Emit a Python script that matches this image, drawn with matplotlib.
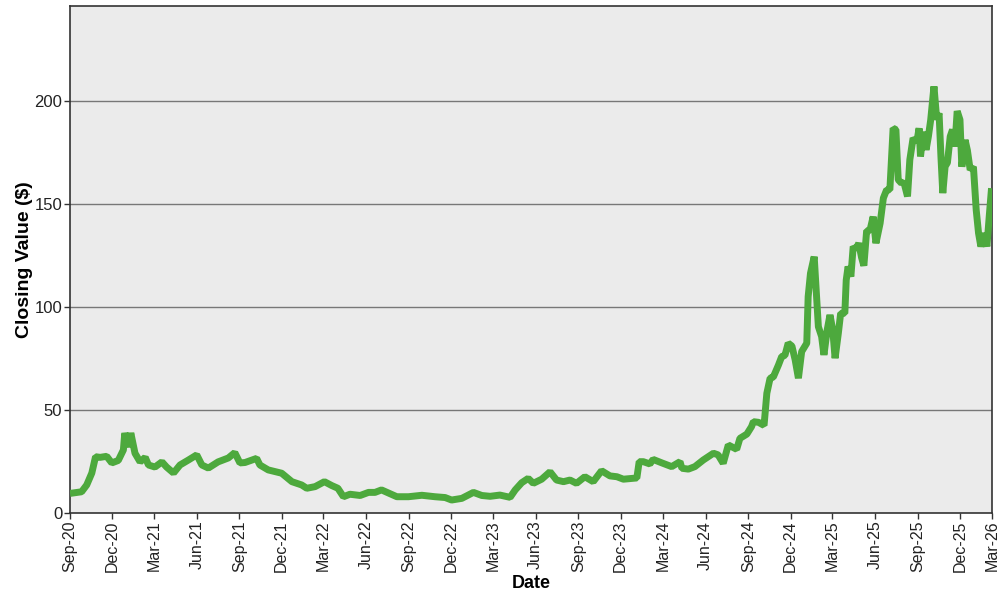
import matplotlib
matplotlib.use("Agg")
import matplotlib.pyplot as plt
import numpy as np
import pandas as pd

plt.rcParams['font.family'] = ['Liberation Sans', 'DejaVu Sans']

start_date = "2020-09-01"
# days since start_date
day_offset = [
    0, 25, 36, 47, 55, 65, 79, 90, 104, 115, 118, 126, 131, 140, 151, 162, 169,
    183, 198, 208, 223, 237, 255, 273, 284, 298, 319, 341, 355, 366,
    377, 402, 409, 427, 456, 478, 499, 510, 528, 548, 564, 577, 589, 603, 625,
    643, 657, 671, 686, 704, 729, 758, 786, 808, 822, 844, 869, 887,
    905, 926, 948, 959, 973, 987, 998, 1016, 1034, 1048, 1063, 1077, 1091, 1109,
    1127, 1145, 1163, 1178, 1192, 1221, 1226, 1235, 1249, 1256, 1275, 1296, 1314,
    1318, 1332, 1346, 1364, 1386, 1396, 1407, 1418, 1436, 1443, 1458, 1468, 1472,
    1483, 1495,
    1501, 1508, 1515, 1526, 1533, 1540, 1547, 1555, 1562, 1569, 1576, 1587, 1590,
    1595, 1603, 1608, 1612, 1619, 1624, 1631, 1637, 1643, 1648, 1655, 1660, 1669,
    1672, 1676, 1682, 1687, 1693, 1699,
    1705, 1710, 1716, 1723, 1730, 1736, 1745, 1752, 1759, 1766, 1773, 1779, 1784,
    1791, 1796, 1804, 1809, 1816, 1824, 1829, 1832, 1838, 1844, 1849, 1854, 1861,
    1867, 1872, 1876, 1880, 1885, 1890, 1896, 1901, 1906, 1911, 1917, 1921, 1928,
    1933, 1939, 1946, 1952, 1957, 1962, 1969, 1975, 1980, 1985,
]
closing_value = [
    9.5, 10.3, 13.6, 19.4, 27.3, 27.0, 27.5, 24.3, 25.5, 30.6, 38.8, 32.0, 38.8,
    29.0, 24.8, 27.0, 23.3, 22.3, 24.8, 22.3, 19.4, 23.3, 25.7, 28.2, 23.3, 21.8,
    24.8, 26.7, 29.3, 24.3,
    24.5, 26.5, 23.3, 20.9, 19.3, 15.2, 13.6, 12.0, 12.8, 15.2, 13.3, 12.0, 7.9,
    9.1, 8.5, 10.0, 10.0, 11.2, 9.7, 7.9, 7.9, 8.6, 7.9, 7.5, 6.3, 7.1, 10.0, 8.5,
    8.1, 8.7, 7.6, 11.2, 14.7, 16.8, 14.4, 16.4, 20.0, 16.0, 15.2, 16.0, 14.4,
    17.6, 15.2, 20.5, 18.0, 17.6, 16.4, 17.0, 24.9, 24.9, 23.8, 26.0, 24.3, 22.5,
    24.9, 21.7, 21.3, 22.5, 25.7, 29.0, 28.2, 24.1, 33.0, 30.9, 36.2, 38.3, 41.9,
    44.3, 44.0, 42.5,
    58.1, 65.4, 66.0, 71.8, 75.9, 76.5, 82.4, 81.0, 74.3, 65.4, 78.3, 82.4, 105.0,
    116.3, 124.4, 105.0, 90.4, 85.6, 76.7, 88.8, 96.1, 88.8, 75.1, 87.2, 96.9,
    96.9, 113.0, 119.6, 114.7, 129.3, 128.0, 130.9,
    124.0, 120.0, 137.0, 137.0, 143.8, 130.9, 140.6, 152.8, 156.8, 156.8, 186.7,
    186.0, 161.7, 160.0, 160.7, 153.6, 171.4, 181.9, 180.0, 186.7, 173.0, 185.0,
    176.2, 182.7, 190.8, 207.0, 190.8, 194.0, 173.0, 155.2, 168.1, 170.0, 182.7,
    186.0, 177.8, 195.0, 190.8, 168.0, 181.0, 176.0, 166.5, 168.0, 147.0, 135.8,
    129.3, 135.8, 129.3, 143.8, 157.6,
]
tick_labels = ["Sep-20", "Dec-20", "Mar-21", "Jun-21", "Sep-21", "Dec-21",
               "Mar-22", "Jun-22", "Sep-22", "Dec-22", "Mar-23", "Jun-23",
               "Sep-23", "Dec-23", "Mar-24", "Jun-24", "Sep-24", "Dec-24",
               "Mar-25", "Jun-25", "Sep-25", "Dec-25", "Mar-26"]
y_ticks = [0, 50, 100, 150, 200]

start = pd.Timestamp(start_date)
dates = start + pd.to_timedelta(day_offset, unit="D")
x_end = start + pd.Timedelta(days=1986)

fig = plt.figure(figsize=(10, 6), dpi=100)
ax = fig.add_axes([0.07, 0.145, 0.922, 0.845])
ax.set_facecolor("#EBEBEB")
fig.patch.set_facecolor("white")

ax.plot(dates, closing_value, color="#4DA93D", lw=5, solid_joinstyle="bevel",
        solid_capstyle="butt", zorder=3)

ax.set_xlim(start, x_end)
ax.set_ylim(0, 246)

tick_pos = list(pd.date_range(start, periods=len(tick_labels) - 1, freq="3MS"))
tick_pos.append(x_end)
ax.set_xticks(tick_pos)
ax.set_xticklabels(tick_labels, rotation=90, fontsize=11.5, color="#222222")
ax.set_yticks(y_ticks)
ax.set_yticklabels([str(v) for v in y_ticks], fontsize=12, color="#222222")
ax.tick_params(axis="both", direction="out", length=4, width=1, color="#333333",
               pad=1.5)

for v in y_ticks[1:]:
    ax.axhline(v, color="#777777", lw=1, zorder=1)

for s in ax.spines.values():
    s.set_color("#333333")
    s.set_linewidth(1.2)

ax.set_xlabel("Date", fontsize=13, fontweight="bold", labelpad=2)
ax.set_ylabel("Closing Value ($)", fontsize=14, fontweight="bold", labelpad=1)

fig.savefig("out.png", dpi=100)
